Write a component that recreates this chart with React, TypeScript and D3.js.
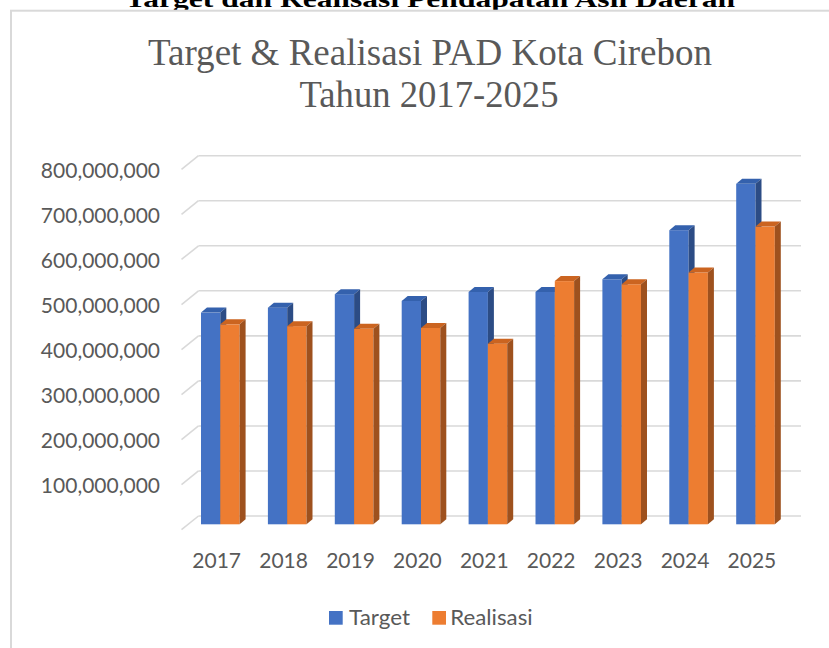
import React from "react";
import * as d3 from "d3";

const years = ["2017", "2018", "2019", "2020", "2021", "2022", "2023", "2024", "2025"];
const target = [470e6, 481e6, 511e6, 496e6, 516e6, 516e6, 544e6, 653e6, 756e6];
const realisasi = [444e6, 440e6, 434e6, 436e6, 401e6, 540e6, 533e6, 559e6, 661e6];
const seriesNames = ["Target", "Realisasi"];
const yTicks = [100e6, 200e6, 300e6, 400e6, 500e6, 600e6, 700e6, 800e6];
const gridTicks = [0, ...yTicks];

const W = 829;
const H = 648;

const faceColors = {
  Target: { front: "#4472C4", top: "#3461AD", side: "#2C4C85" },
  Realisasi: { front: "#ED7D31", top: "#CB6420", side: "#9E511E" },
};

export default function App() {
  const yBack = d3.scaleLinear().domain([0, 800e6]).range([516, 155.7]);
  const floorOffset = 8.3; // bars front face offset below back wall
  const x0 = d3
    .scaleBand<string>()
    .domain(years)
    .range([186.85, 788.95])
    .paddingInner(0.423)
    .paddingOuter(0.2115);
  const x1 = d3.scaleBand<string>().domain(seriesNames).range([0, x0.bandwidth()]);
  const fmt = d3.format(",");
  const dx = 6;
  const dy = -5;
  const gridLeft = 198.5;
  const gridRight = 801;
  const diagDx = 17;
  const diagDy = 13.7;
  const textColor = "#595959";
  const font = "Lato, 'Open Sans', sans-serif";

  const bars: JSX.Element[] = [];
  years.forEach((yr, i) => {
    const vals = [target[i], realisasi[i]];
    seriesNames.forEach((s, j) => {
      const x = (x0(yr) as number) + (x1(s) as number);
      const w = x1.bandwidth();
      const yb = yBack(0) + floorOffset;
      const yt = yBack(vals[j]) + floorOffset;
      const c = (faceColors as any)[s];
      bars.push(
        <g key={yr + s}>
          <rect x={x} y={yt} width={w} height={yb - yt} fill={c.front} />
          <polygon
            points={`${x},${yt} ${x + dx},${yt + dy} ${x + w + dx},${yt + dy} ${x + w},${yt}`}
            fill={c.top}
          />
          <polygon
            points={`${x + w},${yt} ${x + w + dx},${yt + dy} ${x + w + dx},${yb + dy} ${x + w},${yb}`}
            fill={c.side}
          />
        </g>
      );
    });
  });

  return (
    <svg
      width={W}
      height={H}
      style={{ position: "absolute", left: 0, top: 0, background: "#fff" }}
    >
      <text
        x={430}
        y={6.5}
        textAnchor="middle"
        fontFamily="'Liberation Serif', 'Times New Roman', serif"
        fontWeight="bold"
        fontSize={24}
        fill="#000"
        textLength={610}
        lengthAdjust="spacingAndGlyphs"
      >
        Target dan Realisasi Pendapatan Asli Daerah
      </text>
      <rect x={11} y={10.7} width={840} height={700} fill="#fff" stroke="#d9d9d9" strokeWidth={2} />

      <text
        x={430}
        y={65}
        textAnchor="middle"
        fontFamily="'Liberation Serif', 'Times New Roman', serif"
        fontSize={37}
        fill={textColor}
        textLength={564}
        lengthAdjust="spacingAndGlyphs"
      >
        Target &amp; Realisasi PAD Kota Cirebon
      </text>
      <text
        x={429}
        y={107.3}
        textAnchor="middle"
        fontFamily="'Liberation Serif', 'Times New Roman', serif"
        fontSize={37}
        fill={textColor}
        textLength={259}
        lengthAdjust="spacingAndGlyphs"
      >
        Tahun 2017-2025
      </text>

      {gridTicks.map((v) => {
        const y = yBack(v);
        return (
          <g key={"g" + v} stroke="#d9d9d9" strokeWidth={1.6} fill="none">
            <line x1={gridLeft} x2={gridRight} y1={y} y2={y} />
            <line x1={gridLeft - diagDx} x2={gridLeft} y1={y + diagDy} y2={y} />
          </g>
        );
      })}

      {yTicks.map((v) => (
        <text
          key={"yl" + v}
          x={160}
          y={yBack(v) + 22}
          textAnchor="end"
          fontFamily={font}
          fontSize={21}
          fill={textColor}
        >
          {fmt(v)}
        </text>
      ))}

      {bars}

      {years.map((yr) => (
        <text
          key={"xl" + yr}
          x={(x0(yr) as number) + x0.bandwidth() / 2 - 3.6}
          y={568.3}
          textAnchor="middle"
          fontFamily={font}
          fontSize={21}
          fill={textColor}
        >
          {yr}
        </text>
      ))}

      <g>
        <rect x={329} y={611} width={13.7} height={13.7} fill={faceColors.Target.front} />
        <text
          x={349}
          y={625}
          fontFamily={font}
          fontSize={21}
          fill={textColor}
          textLength={61}
          lengthAdjust="spacingAndGlyphs"
        >
          {seriesNames[0]}
        </text>
        <rect x={432.3} y={611} width={13.7} height={13.7} fill={faceColors.Realisasi.front} />
        <text
          x={450.3}
          y={625}
          fontFamily={font}
          fontSize={21}
          fill={textColor}
          textLength={82.4}
          lengthAdjust="spacingAndGlyphs"
        >
          {seriesNames[1]}
        </text>
      </g>
    </svg>
  );
}
